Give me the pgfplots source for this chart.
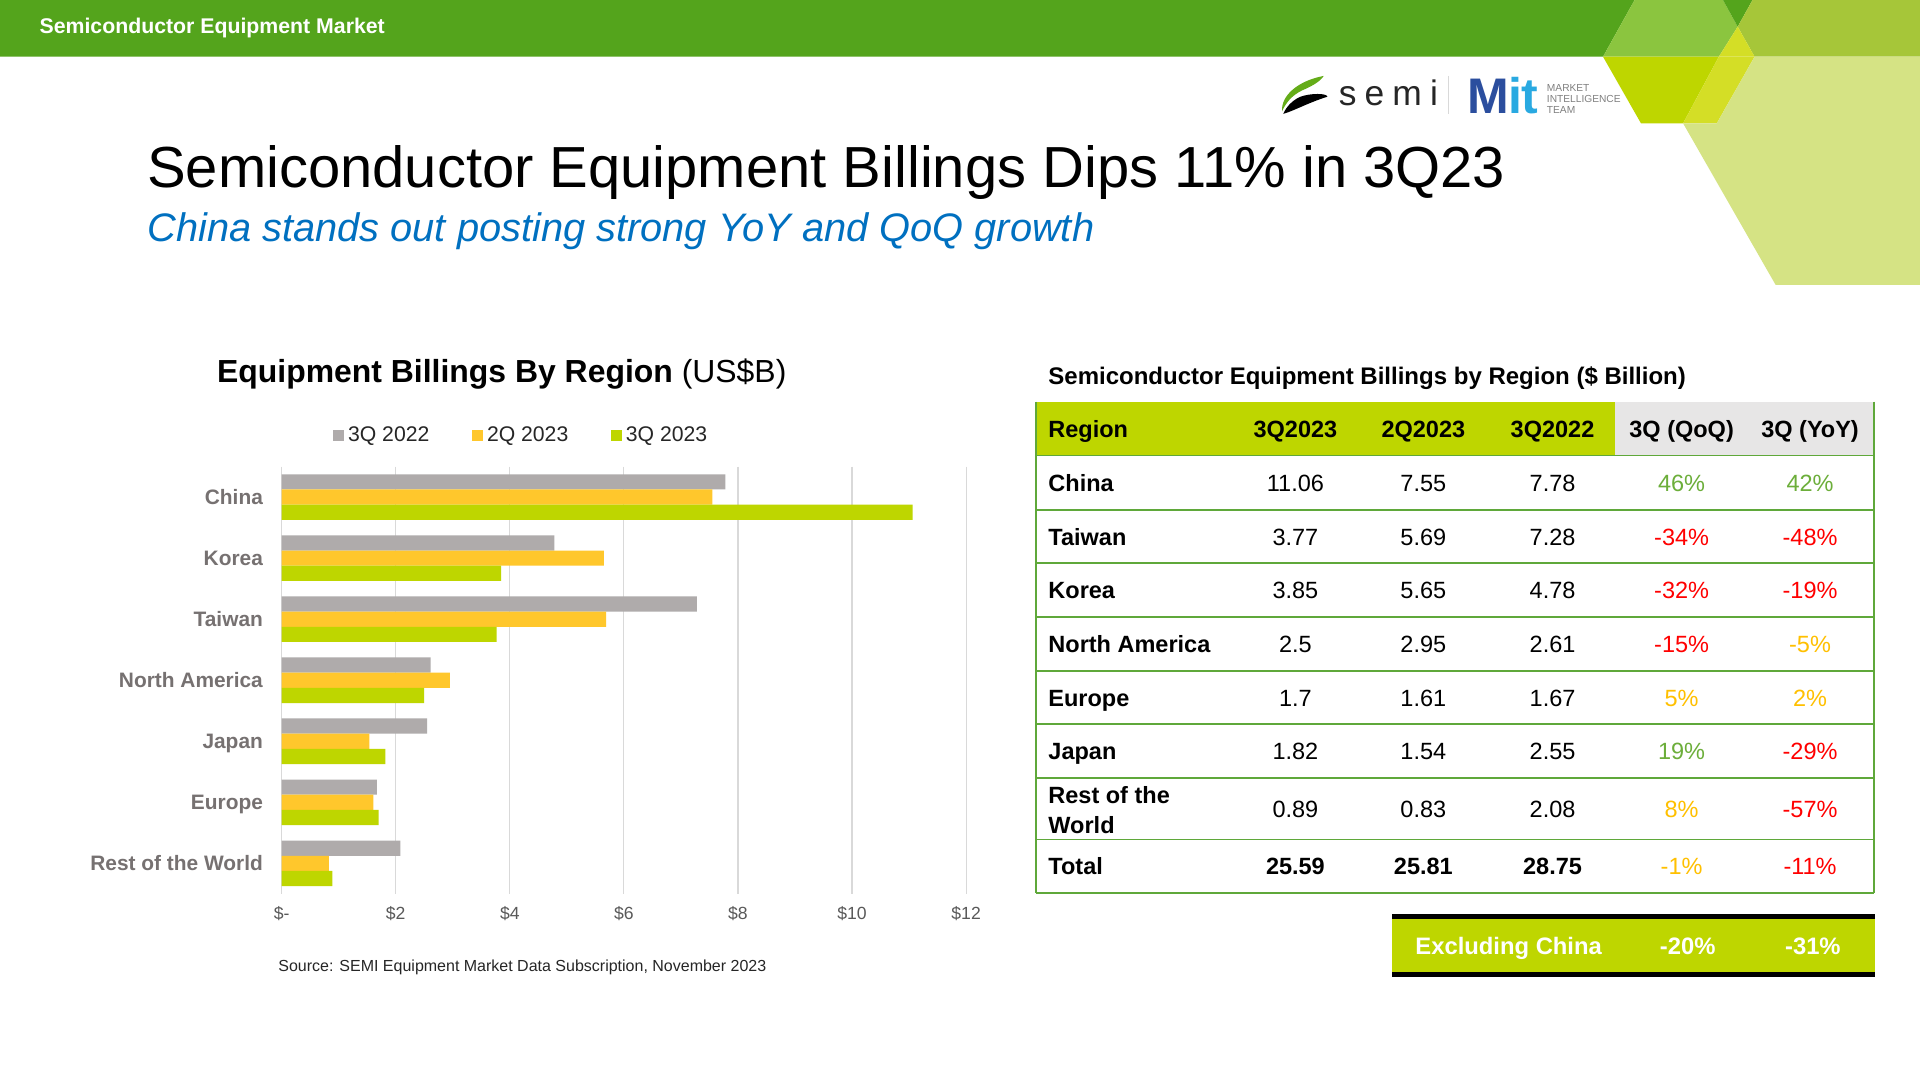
\documentclass[border=0pt]{standalone}
\usepackage{pgfplots}
\pgfplotsset{compat=1.18}
\usepackage{pgfplotstable}
\usepackage{fontspec}
\setmainfont{Liberation Sans}
\newfontfamily\semifont[LetterSpace=23]{Liberation Sans}

\definecolor{hdrgreen}{HTML}{54A41C}
\definecolor{ltgreen}{HTML}{8BC53F}
\definecolor{olive}{HTML}{A6C639}
\definecolor{lime}{HTML}{BED600}
\definecolor{ovl}{HTML}{D4DE26}
\definecolor{pale}{HTML}{D5E384}
\definecolor{bargray}{HTML}{AFABAB}
\definecolor{baryellow}{HTML}{FFC72C}
\definecolor{gridgray}{HTML}{D9D9D9}
\definecolor{tickgray}{HTML}{595959}
\definecolor{catgray}{HTML}{767171}
\definecolor{txtdark}{HTML}{262626}
\definecolor{subblue}{HTML}{0070C0}
\definecolor{tblgreen}{HTML}{5FA83A}
\definecolor{hdrgray}{HTML}{E7E6E6}
\definecolor{pgreen}{HTML}{6CAE3A}
\definecolor{pamber}{HTML}{FFC000}
\definecolor{pred}{HTML}{FF0000}
\definecolor{mitdark}{HTML}{2B4E9E}
\definecolor{mitlight}{HTML}{29A9E1}

\pgfplotsset{sqlegend/.style={legend image code/.code={\fill[##1] (0pt,-2.75pt) rectangle (5.5pt,2.75pt);}}}

% category order: China, Korea, Taiwan, North America, Japan, Europe, Rest of the World
\pgfplotstableread{
y v
0 7.78
1 4.78
2 7.28
3 2.61
4 2.55
5 1.67
6 2.08
}\dataA
\pgfplotstableread{
y v
0 7.55
1 5.65
2 5.69
3 2.95
4 1.54
5 1.61
6 0.83
}\dataB
\pgfplotstableread{
y v
0 11.06
1 3.85
2 3.77
3 2.5
4 1.82
5 1.7
6 0.89
}\dataC

\tikzset{tb/.style={inner sep=0pt, font=\fontsize{11.75pt}{14pt}\selectfont}}
\newcommand{\trow}[9]{%
  \node[tb, anchor=base west] at (855.9,#1) {\bfseries #2};
  \node[tb, anchor=base] at (1057.9,#1) {#3};
  \node[tb, anchor=base] at (1162.4,#1) {#4};
  \node[tb, anchor=base] at (1267.9,#1) {#5};
  \node[tb, anchor=base, text=#6] at (1373.3,#1) {#7};
  \node[tb, anchor=base, text=#8] at (1478.2,#1) {#9};
}

\begin{document}
\begin{tikzpicture}
\begin{scope}[x=0.612245pt,y=-0.612245pt]
\fill[white] (0,0) rectangle (1568,882);
\useasboundingbox (0,0) rectangle (1568,882);

% header decorations
\fill[hdrgreen] (0,0) -- (1334.9,0) -- (1309.1,46.3) -- (0,46.3) -- cycle;
\fill[ltgreen] (1334.9,0) -- (1407.1,0) -- (1419.1,21.8) -- (1403.7,46.3) -- (1309.1,46.3) -- cycle;
\fill[hdrgreen] (1407.1,0) -- (1431.2,0) -- (1419.1,21.8) -- cycle;
\fill[olive] (1431.2,0) -- (1568,0) -- (1568,46.3) -- (1432.9,46.3) -- (1419.1,21.8) -- cycle;
\fill[ovl] (1419.1,21.8) -- (1432.9,46.3) -- (1403.7,46.3) -- cycle;
\fill[lime] (1309.1,46.3) -- (1403.7,46.3) -- (1374.5,100.7) -- (1340.1,100.7) -- cycle;
\fill[ovl] (1403.7,46.3) -- (1432.9,46.3) -- (1402,100.7) -- (1374.5,100.7) -- cycle;
\fill[pale] (1432.9,46.3) -- (1568,46.3) -- (1568,232.7) -- (1450.1,232.7) -- (1374.5,100.7) -- (1402,100.7) -- cycle;

\node[anchor=base west, inner sep=0pt, text=white, font=\bfseries\fontsize{10.64pt}{12pt}\selectfont] at (32,27.2) {Semiconductor Equipment Market};

% logos
\fill[hdrgreen!85!lime] (1047,91) .. controls (1046,78) and (1060,66) .. (1081,62) .. controls (1078,67) and (1070,71) .. (1063,74) .. controls (1055,78) and (1050,84) .. (1047,91) -- cycle;
\fill[black] (1048,93) .. controls (1058,90) and (1068,84) .. (1084,79) .. controls (1084,76) and (1070,76) .. (1062,79) .. controls (1055,82) and (1050,88) .. (1048,93) -- cycle;
\node[anchor=base west, inner sep=0pt, text=txtdark, font=\semifont\fontsize{17.7pt}{20pt}\selectfont] at (1093,86) {semi};
\draw[gridgray, line width=0.5pt] (1183,62) -- (1183,93);
\node[anchor=base west, inner sep=0pt, font=\bfseries\fontsize{25pt}{28pt}\selectfont] at (1198,93) {\textcolor{mitdark}{M}\kern-0.5pt\textcolor{mitlight}{it}};
\node[anchor=base west, inner sep=0pt, text=gray, font=\fontsize{5.1pt}{6pt}\selectfont] at (1263,75) {MARKET};
\node[anchor=base west, inner sep=0pt, text=gray, font=\fontsize{5.1pt}{6pt}\selectfont] at (1263,84) {INTELLIGENCE};
\node[anchor=base west, inner sep=0pt, text=gray, font=\fontsize{5.1pt}{6pt}\selectfont] at (1263,93) {TEAM};

% titles
\node[anchor=base west, inner sep=0pt, font=\fontsize{28.97pt}{34pt}\selectfont] at (120,153.5) {Semiconductor Equipment Billings Dips 11\% in 3Q23};
\node[anchor=base west, inner sep=0pt, text=subblue, font=\itshape\fontsize{19.9pt}{23pt}\selectfont] at (120,197) {China stands out posting strong YoY and QoQ growth};

% chart title and source
\node[anchor=base west, inner sep=0pt, font=\fontsize{15.96pt}{19pt}\selectfont] at (177,312) {\textbf{Equipment Billings By Region} (US\$B)};
\node[anchor=base west, inner sep=0pt, text=txtdark, font=\fontsize{8.0pt}{10pt}\selectfont] at (227,793.7) {Source: SEMI Equipment Market Data Subscription, November 2023};

% table
\node[anchor=base west, inner sep=0pt, font=\bfseries\fontsize{12pt}{14pt}\selectfont] at (855.9,314) {Semiconductor Equipment Billings by Region (\$ Billion)};
\fill[lime] (846,328) rectangle (1319.1,372);
\fill[hdrgray] (1319.1,328) rectangle (1530.5,372);
\foreach \yy in {372,416.5,460,504,548,591.5,635.6,685.5,729.5}
  \draw[tblgreen, line width=0.8pt] (846,\yy) -- (1530.5,\yy);
\draw[tblgreen, line width=0.8pt] (846,328) -- (846,729.5);
\draw[tblgreen, line width=0.8pt] (1530.5,328) -- (1530.5,729.5);

\trow{356.9}{Region}{\bfseries 3Q2023}{\bfseries 2Q2023}{\bfseries 3Q2022}{black}{\bfseries 3Q (QoQ)}{black}{\bfseries 3Q (YoY)}
\trow{401.1}{China}{11.06}{7.55}{7.78}{pgreen}{46\%}{pgreen}{42\%}
\trow{445.1}{Taiwan}{3.77}{5.69}{7.28}{pred}{-34\%}{pred}{-48\%}
\trow{488.9}{Korea}{3.85}{5.65}{4.78}{pred}{-32\%}{pred}{-19\%}
\trow{532.9}{North America}{2.5}{2.95}{2.61}{pred}{-15\%}{pamber}{-5\%}
\trow{576.7}{Europe}{1.7}{1.61}{1.67}{pamber}{5\%}{pamber}{2\%}
\trow{620.4}{Japan}{1.82}{1.54}{2.55}{pgreen}{19\%}{pred}{-29\%}
\trow{667.4}{}{0.89}{0.83}{2.08}{pamber}{8\%}{pred}{-57\%}
\node[tb, anchor=base west] at (855.9,655.9) {\bfseries Rest of the};
\node[tb, anchor=base west] at (855.9,680.9) {\bfseries World};
\trow{714.4}{Total}{\bfseries 25.59}{\bfseries 25.81}{\bfseries 28.75}{pamber}{-1\%}{pred}{-11\%}

% excluding China box
\fill[black] (1136.8,746.4) rectangle (1530.9,750.8);
\fill[lime] (1136.8,750.8) rectangle (1530.9,794);
\fill[black] (1136.8,794) rectangle (1530.9,797.6);
\node[anchor=base west, inner sep=0pt, text=white, font=\bfseries\fontsize{11.9pt}{14pt}\selectfont] at (1155.6,779.9) {Excluding China};
\node[anchor=base, inner sep=0pt, text=white, font=\bfseries\fontsize{11.9pt}{14pt}\selectfont] at (1378.3,779.9) {-20\%};
\node[anchor=base, inner sep=0pt, text=white, font=\bfseries\fontsize{11.9pt}{14pt}\selectfont] at (1480.5,779.9) {-31\%};
\end{scope}

\begin{axis}[
  at={(140.816pt,-446.939pt)}, anchor=south west,
  scale only axis, width=342.245pt, height=213.673pt,
  xbar, bar width=7.6pt,
  xmin=0, xmax=12, ymin=-0.5, ymax=6.5, y dir=reverse,
  xtick={0,2,4,6,8,10,12},
  xticklabels={\$-,\$2,\$4,\$6,\$8,\$10,\$12},
  ytick={0,1,2,3,4,5,6},
  yticklabels={China,Korea,Taiwan,North America,Japan,Europe,Rest of the World},
  xmajorgrids=true,
  major grid style={draw=gridgray, line width=0.6pt},
  axis line style={draw=none},
  major tick length=0pt,
  tick style={draw=none},
  xticklabel style={font=\fontsize{8.8pt}{10pt}\selectfont, text=tickgray, anchor=base, inner sep=0pt, yshift=-12.98pt},
  yticklabel style={font=\bfseries\fontsize{10.44pt}{12pt}\selectfont, text=catgray, anchor=base east, inner sep=0pt, xshift=-9.18pt, yshift=-3.74pt},
  legend style={at={(0.3488,1.0720)}, anchor=center, draw=none, fill=none,
    legend columns=3, font=\fontsize{10.6pt}{12pt}\selectfont, text=txtdark,
    inner sep=0pt, nodes={inner sep=0pt},
    /tikz/every odd column/.append style={column sep=1.8pt},
    /tikz/every even column/.append style={column sep=21.5pt}},
]
\addplot[fill=bargray, draw=none, bar shift=7.6pt, sqlegend] table[x=v,y=y]{\dataA};
\addlegendentry{3Q 2022}
\addplot[fill=baryellow, draw=none, bar shift=0pt, sqlegend] table[x=v,y=y]{\dataB};
\addlegendentry{2Q 2023}
\addplot[fill=lime, draw=none, bar shift=-7.6pt, sqlegend] table[x=v,y=y]{\dataC};
\addlegendentry{3Q 2023}
\end{axis}
\end{tikzpicture}
\end{document}
